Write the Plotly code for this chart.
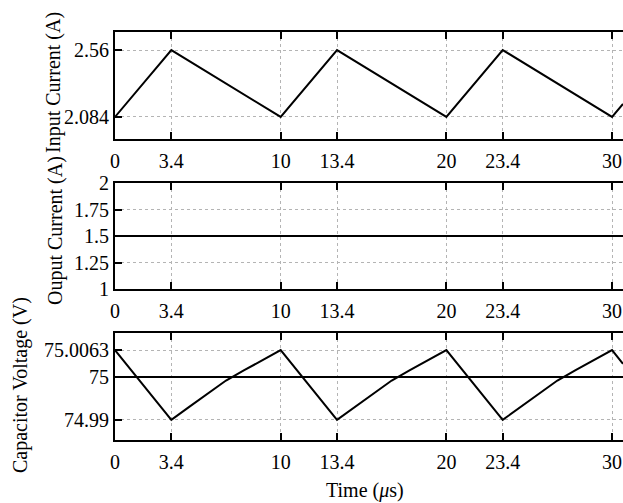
import plotly.graph_objects as go

W, H = 623, 503

# ---- data ----
x_ticks = [0, 3.4, 10, 13.4, 20, 23.4, 30]
x_tick_labels = ["0", "3.4", "10", "13.4", "20", "23.4", "30"]

t_input = [0, 3.4, 10, 13.4, 20, 23.4, 30, 30.66]
input_current = [2.084, 2.56, 2.084, 2.56, 2.084, 2.56, 2.084, 2.176]

t_output = [0, 30.66]
output_current = [1.5, 1.5]

t_cap = [0, 3.4, 4.5, 5.6, 6.7, 7.8, 8.9, 10,
         13.4, 14.5, 15.6, 16.7, 17.8, 18.9, 20,
         23.4, 24.5, 25.6, 26.7, 27.8, 28.9, 30, 30.66]
cap_voltage = [75.0063, 74.99, 74.9931, 74.9962, 74.9992, 75.0016, 75.0040, 75.0063,
               74.99, 74.9931, 74.9962, 74.9992, 75.0016, 75.0040, 75.0063,
               74.99, 74.9931, 74.9962, 74.9992, 75.0016, 75.0040, 75.0063, 75.0031]
cap_avg = [75.0, 75.0]

y1_ticks = [2.084, 2.56]
y1_labels = ["2.084", "2.56"]
y2_ticks = [1, 1.25, 1.5, 1.75, 2]
y2_labels = ["1", "1.25", "1.5", "1.75", "2"]
y3_ticks = [74.99, 75, 75.0063]
y3_labels = ["74.99", "75", "75.0063"]

titles = ["Input Current (A)", "Ouput Current (A)", "Capacitor Voltage (V)"]
x_title = "Time (<i>μ</i>s)"

FONT = "Liberation Serif, Times New Roman, serif"

def px_x(p):
    return p / W

def px_y(p):
    return 1 - p / H

fig = go.Figure()
line = dict(color="black", width=2)
fig.add_trace(go.Scatter(x=t_input, y=input_current, mode="lines", line=line, xaxis="x", yaxis="y"))
fig.add_trace(go.Scatter(x=t_output, y=output_current, mode="lines", line=line, xaxis="x2", yaxis="y2"))
fig.add_trace(go.Scatter(x=t_output, y=cap_avg, mode="lines", line=line, xaxis="x3", yaxis="y3"))
fig.add_trace(go.Scatter(x=t_cap, y=cap_voltage, mode="lines", line=line, xaxis="x3", yaxis="y3"))

xdom = [px_x(115), 1]
ydoms = [[px_y(139), px_y(32)], [px_y(289), px_y(183)], [px_y(440), px_y(333)]]
yranges = [[1.927, 2.6885], [1, 2], [74.9853, 75.0103]]
yticks = [(y1_ticks, y1_labels), (y2_ticks, y2_labels), (y3_ticks, y3_labels)]

axcommon = dict(
    showline=True, linecolor="black", linewidth=2,
    ticks="inside", ticklen=7, tickwidth=1.5, tickcolor="black",
    showgrid=True, gridcolor="#b4b4b4", gridwidth=1, griddash="dot",
    zeroline=False, automargin=False,
    tickfont=dict(family=FONT, size=20, color="black"),
)

layout = dict(
    width=W, height=H,
    margin=dict(l=0, r=0, t=0, b=0),
    paper_bgcolor="white", plot_bgcolor="white",
    showlegend=False,
    font=dict(family=FONT, color="black"),
)
for i in range(3):
    sx = "" if i == 0 else str(i + 1)
    layout["xaxis" + sx] = dict(
        axcommon, domain=xdom, range=[0, 30.66], anchor="y" + sx,
        tickvals=x_ticks, ticktext=x_tick_labels, mirror="ticks",
        ticklabelstandoff=3,
    )
    layout["yaxis" + sx] = dict(
        axcommon, domain=ydoms[i], range=yranges[i], anchor="x" + sx,
        tickvals=yticks[i][0], ticktext=yticks[i][1], mirror=False,
        ticklabelstandoff=0,
    )

ann = []
title_pos = [(54, 82), (55, 231), (20, 385)]
for t, (ax, ay) in zip(titles, title_pos):
    ann.append(dict(text=t, x=px_x(ax), y=px_y(ay), xref="paper", yref="paper",
                    textangle=-90, showarrow=False, xanchor="center", yanchor="middle",
                    font=dict(family=FONT, size=20, color="black")))
ann.append(dict(text=x_title, x=px_x(365), y=px_y(490), xref="paper", yref="paper",
                showarrow=False, xanchor="center", yanchor="middle",
                font=dict(family=FONT, size=20, color="black")))
layout["annotations"] = ann

fig.update_layout(**layout)
fig.write_html(
    "out.html",
    config={"displayModeBar": False},
    post_script="document.body.style.margin='0';document.body.style.overflow='hidden';",
)
